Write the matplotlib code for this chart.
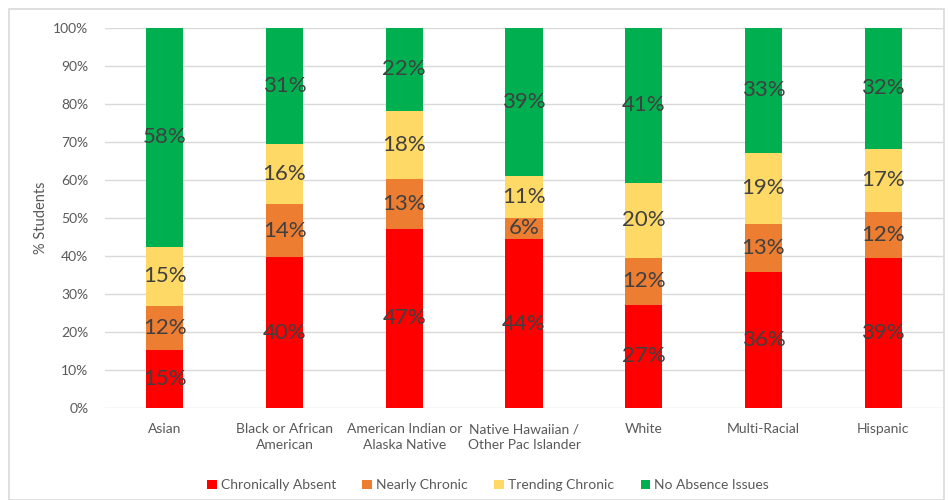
import matplotlib.pyplot as plt
from matplotlib.patches import Rectangle
import numpy as np

plt.rcParams['font.family'] = ['Lato', 'DejaVu Sans']

groups = ['Asian', 'Black or African\nAmerican', 'American Indian or\nAlaska Native',
          'Native Hawaiian /\nOther Pac Islander', 'White', 'Multi-Racial', 'Hispanic']
chronic = [15.3, 39.6, 47.1, 44.4, 27.1, 35.7, 39.4]
nearly = [11.6, 14.0, 13.0, 5.6, 12.4, 12.8, 12.2]
trending = [15.4, 15.8, 18.0, 11.1, 19.7, 18.6, 16.6]
no_issues = [57.7, 30.6, 21.9, 38.9, 40.8, 32.9, 31.8]

series = [('Chronically Absent', chronic, '#FF0000'),
          ('Nearly Chronic', nearly, '#ED7D31'),
          ('Trending Chronic', trending, '#FFD966'),
          ('No Absence Issues', no_issues, '#00B050')]

fig = plt.figure(figsize=(9.48, 5), dpi=100)
ax = fig.add_axes([105/948, 92/500, 838/948, 380.3/500])

# light frame round the whole chart
fig.patches.append(Rectangle((9/948, 0), 935/948, 491/500, transform=fig.transFigure,
                             fill=False, edgecolor='#d9d9d9', linewidth=1.2))

x = np.arange(len(groups))
bottom = np.zeros(len(groups))
for name, vals, col in series:
    vals = np.array(vals)
    ax.bar(x, vals, 0.31, bottom=bottom, color=col, label=name, zorder=2)
    for xi, b, v in zip(x, bottom, vals):
        ax.text(xi, b + v/2, f'{v:.0f}%', ha='center', va='center',
                fontsize=16, color='#404040', zorder=3)
    bottom += vals

ax.set_xlim(-0.5, len(groups) - 0.5)
ax.set_ylim(0, 100)
ax.set_yticks(np.arange(0, 101, 10))
ax.set_yticklabels([f'{t}%' for t in range(0, 101, 10)])
ax.set_xticks(x)
ax.set_xticklabels(groups, linespacing=1.4)
ax.tick_params(axis='both', length=0, labelsize=10, labelcolor='#595959')
ax.tick_params(axis='x', pad=11)
ax.tick_params(axis='y', pad=12)
ax.grid(axis='y', color='#d9d9d9', linewidth=1, zorder=0)
for s in ax.spines.values():
    s.set_visible(False)
ax.set_ylabel('% Students', fontsize=10.5, color='#595959', labelpad=4)

ax.legend(loc='upper center', bbox_to_anchor=(0.457, -0.155), ncol=4, frameon=False,
          fontsize=10, labelcolor='#595959', handlelength=0.7, handleheight=0.7,
          handletextpad=0.3, columnspacing=1.9)

fig.savefig('out.png', dpi=100)
